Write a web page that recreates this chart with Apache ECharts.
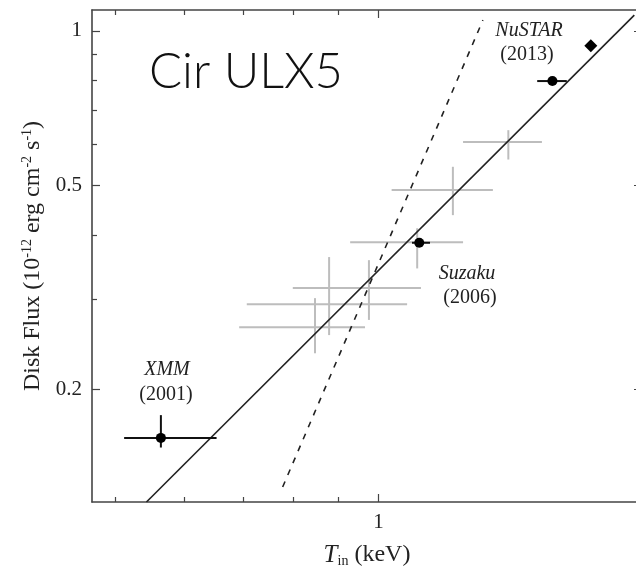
<!DOCTYPE html>
<html><head><meta charset="utf-8">
<script src="https://cdn.jsdelivr.net/npm/echarts@6/dist/echarts.min.js"></script>
<style>html,body{margin:0;padding:0;background:#fff}#c{width:636px;height:572px}</style>
</head><body><div id="c"></div>
<script>
// Tick values
const xTicksMajor = [1, 2];
const xTicksMinor = [0.5, 0.6, 0.7, 0.8, 0.9];
const yTicksMajor = [0.2, 0.5, 1];
const yTicksMinor = [0.3, 0.4, 0.6, 0.7, 0.8, 0.9];

// Grey crosses (other observations)
const greyT   = [1.407, 1.216, 1.107, 0.846, 0.878, 0.975];
const greyTlo = [1.249, 1.035, 0.928, 0.693, 0.707, 0.798];
const greyThi = [1.537, 1.351, 1.249, 0.965, 1.078, 1.118];
const greyF   = [0.607, 0.489, 0.387, 0.264, 0.293, 0.315];
const greyFlo = [0.561, 0.437, 0.344, 0.235, 0.255, 0.273];
const greyFhi = [0.640, 0.543, 0.412, 0.301, 0.362, 0.357];

// Black points (XMM, Suzaku, NuSTAR x2)
const obsNames  = ['XMM 2001', 'Suzaku 2006', 'NuSTAR 2013 a', 'NuSTAR 2013 b'];
const obsT      = [0.564, 1.113, 1.580, 1.748];
const obsTlo    = [0.512, 1.092, 1.518, 1.748];
const obsThi    = [0.653, 1.145, 1.641, 1.748];
const obsF      = [0.1607, 0.386, 0.798, 0.935];
const obsFlo    = [0.1539, 0.386, 0.798, 0.935];
const obsFhi    = [0.178, 0.386, 0.798, 0.935];
const obsSymbol = ['circle', 'circle', 'circle', 'diamond'];

// Relations
const fitT = [0.543, 1.96];
const fitF = [0.1205, 1.073];
const t4T  = [0.777, 1.316];
const t4F  = [0.1289, 1.049];

const X_MIN = 0.4705, X_MAX = 2, Y_MIN = 0.1205, Y_MAX = 1.098;
const SERIF = '"Liberation Serif", "DejaVu Serif", serif';
const frame = '#444';

function crossItem(color, lw) {
  return function (params, api) {
    const t = api.value(0), f = api.value(1);
    const pL = api.coord([api.value(2), f]), pR = api.coord([api.value(3), f]);
    const pB = api.coord([t, api.value(4)]), pT = api.coord([t, api.value(5)]);
    const style = { stroke: color, lineWidth: lw };
    return { type: 'group', children: [
      { type: 'line', shape: { x1: pL[0], y1: pL[1], x2: pR[0], y2: pR[1] }, style },
      { type: 'line', shape: { x1: pB[0], y1: pB[1], x2: pT[0], y2: pT[1] }, style }
    ]};
  };
}

function xAxisDef(pos, ticks, len, showLine, showLabel, name) {
  const a = {
    type: 'log', logBase: 10, min: X_MIN, max: X_MAX, position: pos, gridIndex: 0,
    axisLine: { show: showLine, lineStyle: { color: frame, width: 1.6 } },
    axisTick: { show: true, inside: true, length: len, customValues: ticks, lineStyle: { color: frame, width: 1.2 } },
    axisLabel: { show: showLabel, customValues: ticks, margin: 10, color: '#222', fontFamily: SERIF, fontSize: 21 },
    splitLine: { show: false }, minorTick: { show: false }
  };
  if (name) {
    a.name = name.text; a.nameLocation = 'middle'; a.nameGap = name.gap;
    a.nameTextStyle = name.style;
  }
  return a;
}
function yAxisDef(pos, ticks, len, showLine, showLabel, name) {
  const a = {
    type: 'log', logBase: 10, min: Y_MIN, max: Y_MAX, position: pos, gridIndex: 0,
    axisLine: { show: showLine, lineStyle: { color: frame, width: 1.6 } },
    axisTick: { show: true, inside: true, length: len, customValues: ticks, lineStyle: { color: frame, width: 1.2 } },
    axisLabel: { show: showLabel, customValues: ticks, margin: 10, color: '#222', fontFamily: SERIF, fontSize: 21 },
    splitLine: { show: false }, minorTick: { show: false }
  };
  if (name) {
    a.name = name.text; a.nameLocation = 'middle'; a.nameGap = name.gap; a.nameRotate = 90;
    a.nameTextStyle = name.style;
  }
  return a;
}

const xName = {
  text: '{it|T}{sub|in}{a| (keV)}', gap: 40,
  style: { color: '#222', fontFamily: SERIF, fontSize: 24, rich: {
    it: { fontStyle: 'italic', fontFamily: SERIF, fontSize: 25, color: '#222', lineHeight: 26 },
    sub: { fontFamily: SERIF, fontSize: 14, color: '#222', verticalAlign: 'bottom', lineHeight: 14 },
    a: { fontFamily: SERIF, fontSize: 24, color: '#222', lineHeight: 26 }
  }}
};
const yName = {
  text: '{a|Disk Flux (10}{s|-12}{a| erg cm}{s|-2}{a| s}{s|-1}{a|)}', gap: 41,
  style: { color: '#222', fontFamily: SERIF, fontSize: 24, rich: {
    a: { fontFamily: SERIF, fontSize: 24, color: '#222', lineHeight: 26 },
    s: { fontFamily: SERIF, fontSize: 14, color: '#222', verticalAlign: 'top', lineHeight: 12 }
  }}
};

const chart = echarts.init(document.getElementById('c'), null, { renderer: 'canvas' });
chart.setOption({
  animation: false,
  backgroundColor: '#fff',
  grid: { left: 92, top: 10, width: 550, height: 492, containLabel: false, outerBoundsMode: 'none' },
  xAxis: [
    xAxisDef('bottom', xTicksMajor, 8, true, true, xName),
    xAxisDef('bottom', xTicksMinor, 5, false, false),
    xAxisDef('top', xTicksMajor, 8, true, false),
    xAxisDef('top', xTicksMinor, 5, false, false)
  ],
  yAxis: [
    yAxisDef('left', yTicksMajor, 8, true, true, yName),
    yAxisDef('left', yTicksMinor, 5, false, false),
    yAxisDef('right', yTicksMajor, 8, true, false),
    yAxisDef('right', yTicksMinor, 5, false, false)
  ],
  series: [
    {
      type: 'custom', name: 'other', xAxisIndex: 0, yAxisIndex: 0,
      renderItem: crossItem('#bdbdbd', 2),
      encode: { x: [0, 2, 3], y: [1, 4, 5] },
      data: greyT.map((t, i) => [t, greyF[i], greyTlo[i], greyThi[i], greyFlo[i], greyFhi[i]]),
      z: 1
    },
    {
      type: 'line', name: 'T^4', xAxisIndex: 0, yAxisIndex: 0,
      data: t4T.map((t, i) => [t, t4F[i]]), symbol: 'none',
      lineStyle: { color: '#222', width: 1.6, type: [6, 7] }, z: 2
    },
    {
      type: 'line', name: 'fit', xAxisIndex: 0, yAxisIndex: 0,
      data: fitT.map((t, i) => [t, fitF[i]]), symbol: 'none',
      lineStyle: { color: '#222', width: 1.6 }, z: 2
    },
    {
      type: 'custom', name: 'obs err', xAxisIndex: 0, yAxisIndex: 0,
      renderItem: crossItem('#111', 2),
      encode: { x: [0, 2, 3], y: [1, 4, 5] },
      data: obsT.map((t, i) => [t, obsF[i], obsTlo[i], obsThi[i], obsFlo[i], obsFhi[i]]),
      z: 3
    },
    {
      type: 'scatter', name: 'obs', xAxisIndex: 0, yAxisIndex: 0,
      data: obsT.map((t, i) => ({ name: obsNames[i], value: [t, obsF[i]], symbol: obsSymbol[i], symbolSize: obsSymbol[i] === 'diamond' ? 13 : 10 })),
      itemStyle: { color: '#000', opacity: 1 }, z: 4
    }
  ],
  graphic: [
    { type: 'text', z: 10, style: { text: 'Cir ULX5', x: 149, y: 72, fill: '#111', font: '300 49px Lato, "Open Sans", sans-serif', textAlign: 'left', textVerticalAlign: 'middle' } },
    { type: 'text', z: 10, style: { text: 'XMM', x: 167, y: 370, fill: '#222', font: 'italic 20px ' + SERIF, textAlign: 'center', textVerticalAlign: 'middle' } },
    { type: 'text', z: 10, style: { text: '(2001)', x: 166, y: 395, fill: '#222', font: '20px ' + SERIF, textAlign: 'center', textVerticalAlign: 'middle' } },
    { type: 'text', z: 10, style: { text: 'Suzaku', x: 467, y: 274, fill: '#222', font: 'italic 20px ' + SERIF, textAlign: 'center', textVerticalAlign: 'middle' } },
    { type: 'text', z: 10, style: { text: '(2006)', x: 470, y: 298, fill: '#222', font: '20px ' + SERIF, textAlign: 'center', textVerticalAlign: 'middle' } },
    { type: 'text', z: 10, style: { text: 'NuSTAR', x: 529, y: 31, fill: '#222', font: 'italic 20px ' + SERIF, textAlign: 'center', textVerticalAlign: 'middle' } },
    { type: 'text', z: 10, style: { text: '(2013)', x: 527, y: 55, fill: '#222', font: '20px ' + SERIF, textAlign: 'center', textVerticalAlign: 'middle' } }
  ]
});
</script>
</body></html>
